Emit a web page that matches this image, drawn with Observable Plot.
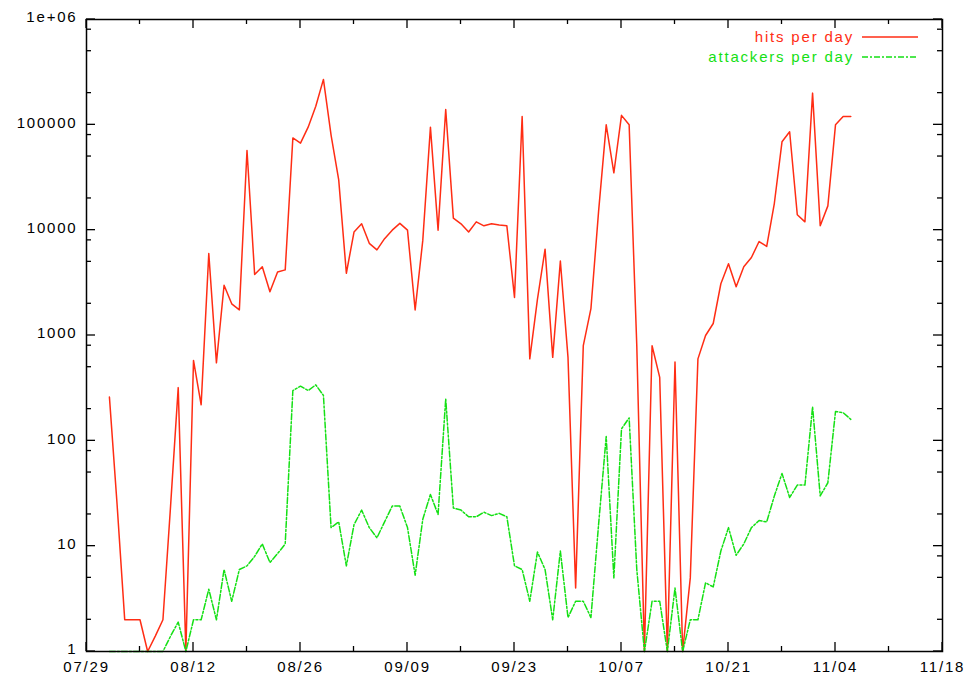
<!DOCTYPE html>
<html>
<head>
<meta charset="utf-8">
<script src="https://cdn.jsdelivr.net/npm/d3@7"></script>
<script src="https://cdn.jsdelivr.net/npm/@observablehq/plot@0.6"></script>
<style>
  html, body { margin: 0; padding: 0; background: #fff; }
  #chart svg { display: block; }
</style>
</head>
<body>
<div id="chart"></div>
<script>
// ---- data ----
const year = 2004;
const firstDay = "08/01";            // first day with data (consecutive daily values follow)
const hits = [
  260, 25, 2, 2, 2, 1, 1.4, 2, 24, 320,
  1, 580, 220, 6000, 550, 3000, 2000, 1750, 57000, 3800,
  4500, 2600, 4000, 4200, 75000, 67000, 95000, 150000, 270000, 80000,
  30000, 3900, 9600, 11500, 7500, 6500, 8300, 10000, 11600, 10000,
  1750, 8000, 95000, 10000, 140000, 13000, 11500, 9600, 12000, 11000,
  11500, 11200, 11000, 2300, 120000, 600, 2200, 6600, 620, 5100,
  620, 4, 800, 1800, 15000, 100000, 35000, 123000, 100000, 800,
  1, 800, 400, 1, 560, 1, 5, 600, 1000, 1300,
  3100, 4800, 2900, 4500, 5500, 7800, 7000, 18000, 69000, 86000,
  14000, 12000, 200000, 11000, 17000, 100000, 120000, 120000
];
const attackers = [
  1, 1, 1, 1, 1, 1, 1, 1, 1.4, 1.9,
  1, 2, 2, 3.9, 2, 6, 3, 6, 6.5, 8,
  10.5, 7, 8.5, 10.5, 300, 330, 300, 340, 270, 15,
  17, 6.5, 16, 22, 15, 12, 17, 24, 24, 15,
  5.3, 18, 31, 20, 250, 23, 22, 19, 19, 21,
  19.5, 20.5, 19, 6.5, 6, 3, 8.8, 6, 2, 9,
  2.1, 3, 3, 2.1, 16, 110, 5, 130, 165, 6,
  1, 3, 3, 1, 4, 1, 2, 2, 4.5, 4.1,
  9, 15, 8.2, 10.5, 15, 17.5, 17, 30, 49, 29,
  38, 38, 210, 30, 40, 190, 185, 160
];
const seriesNames = ["hits per day", "attackers per day"];
const seriesColors = ["#ff2d14", "#14e014"];
const xTickLabels = ["07/29", "08/12", "08/26", "09/09", "09/23", "10/07", "10/21", "11/04", "11/18"];
const yTickValues = [1, 10, 100, 1000, 10000, 100000, 1000000];
const yTickLabels = ["1", "10", "100", "1000", "10000", "100000", "1e+06"];
const yMinorMultipliers = [2, 5, 8];

// ---- derived ----
const parseMD = s => new Date(Date.UTC(year, +s.slice(0, 2) - 1, +s.slice(3, 5)));
const start = parseMD(firstDay);
const rows = (vals, name) => vals.map((v, i) => ({date: d3.utcDay.offset(start, i), value: v, series: name}));
const hitsData = rows(hits, seriesNames[0]);
const attData = rows(attackers, seriesNames[1]);
const xMajor = xTickLabels.map(parseMD);
const xMinor = xMajor.slice(0, -1).map(d => d3.utcDay.offset(d, 7));
const yMinor = [];
for (const dec of yTickValues.slice(0, -1)) for (const m of yMinorMultipliers) yMinor.push(dec * m);
const yLabelOf = new Map(yTickValues.map((v, i) => [v, yTickLabels[i]]));
const xLabelOf = new Map(xMajor.map((d, i) => [+d, xTickLabels[i]]));

const W = 969, H = 681;
const mL = 86, mR = 27, mT = 19, mB = 30;

function ticksMark(index, scales, values, dims) {
  const {x, y} = scales;
  const L = dims.marginLeft, R = dims.width - dims.marginRight;
  const T = dims.marginTop, B = dims.height - dims.marginBottom;
  const g = d3.create("svg:g").attr("stroke", "#000").attr("stroke-width", 1.3).attr("fill", "none");
  const seg = (x1, y1, x2, y2) => g.append("line").attr("x1", x1).attr("y1", y1).attr("x2", x2).attr("y2", y2);
  for (const v of yTickValues) { const p = y(v); seg(L, p, L + 9, p); seg(R, p, R - 9, p); }
  for (const v of yMinor) { const p = y(v); seg(L, p, L + 5, p); seg(R, p, R - 5, p); }
  for (const d of xMajor) { const p = x(d); seg(p, B, p, B - 9); seg(p, T, p, T + 9); }
  for (const d of xMinor) { const p = x(d); seg(p, B, p, B - 5); seg(p, T, p, T + 5); }
  return g.node();
}

function legendMark(index, scales, values, dims) {
  const R = dims.width - dims.marginRight;
  const T = dims.marginTop;
  const g = d3.create("svg:g");
  seriesNames.forEach((name, i) => {
    const yy = T + 18 + i * 20;
    g.append("text").attr("x", R - 88).attr("y", yy).attr("dy", "0.35em")
      .attr("text-anchor", "end").attr("fill", seriesColors[i]).text(name);
    const ln = g.append("line").attr("x1", R - 80).attr("x2", R - 24).attr("y1", yy).attr("y2", yy)
      .attr("stroke", seriesColors[i]).attr("stroke-width", 1.5);
    if (i === 1) ln.attr("stroke-dasharray", "6,2,2,2");
  });
  return g.node();
}

const chart = Plot.plot({
  width: W,
  height: H,
  marginLeft: mL,
  marginRight: mR,
  marginTop: mT,
  marginBottom: mB,
  style: {fontFamily: "'Liberation Sans', Arial, Helvetica, sans-serif", fontSize: "15px", letterSpacing: "1.8px", background: "#fff", color: "#000"},
  x: {type: "utc", domain: [xMajor[0], xMajor[xMajor.length - 1]], label: null},
  y: {type: "log", domain: [1, 1e6], label: null},
  marks: [
    Plot.line(hitsData, {x: "date", y: "value", stroke: seriesColors[0], strokeWidth: 1.5}),
    Plot.line(attData, {x: "date", y: "value", stroke: seriesColors[1], strokeWidth: 1.5, strokeDasharray: "6,2,2,2"}),
    Plot.frame({stroke: "#000", strokeWidth: 1.5}),
    Plot.axisY(yTickValues, {anchor: "left", tickSize: 0, tickPadding: 9, dy: -2, tickFormat: v => yLabelOf.get(v), label: null, fill: "#000"}),
    Plot.axisX(xMajor, {anchor: "bottom", tickSize: 0, tickPadding: 10, tickFormat: d => xLabelOf.get(+d), label: null, fill: "#000"}),
    ticksMark,
    legendMark
  ]
});
document.getElementById("chart").appendChild(chart);
</script>
</body>
</html>
